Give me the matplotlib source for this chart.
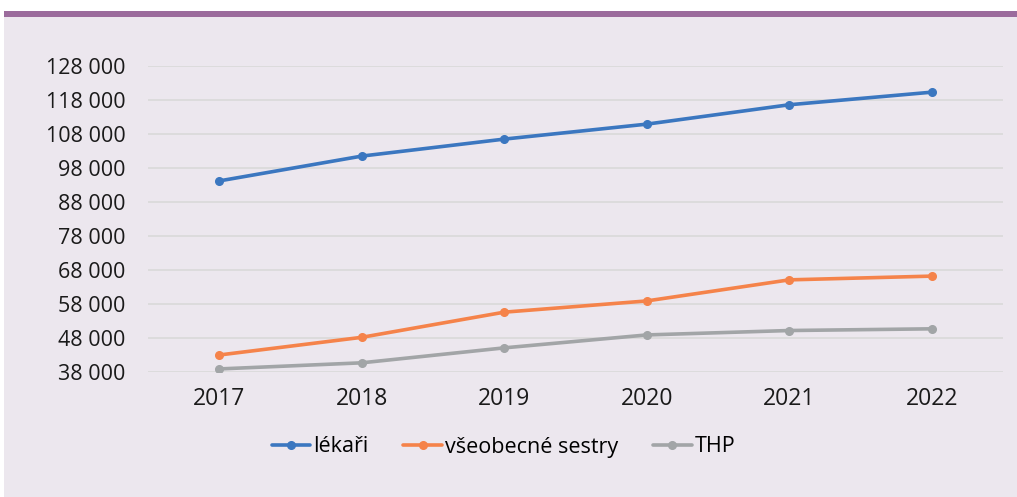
import numpy as np
import matplotlib.pyplot as plt
from matplotlib.ticker import FuncFormatter

years = ['2017', '2018', '2019', '2020', '2021', '2022']
lekari = [94200, 101500, 106500, 110900, 116600, 120300]
sestry = [43000, 48200, 55600, 58900, 65100, 66200]
thp = [38900, 40700, 45100, 48900, 50200, 50700]

bg = '#ECE7EE'
fig = plt.figure(figsize=(10.17, 4.97), dpi=100, facecolor='white')
plt.rcParams['font.family'] = ['Open Sans', 'DejaVu Sans']

# background panel with purple top strip
fig.patches.append(plt.Rectangle((4 / 1017, 0), 1 - 4 / 1017, 1 - 17 / 497,
                                 transform=fig.transFigure, facecolor=bg,
                                 edgecolor='none', zorder=-2))
fig.patches.append(plt.Rectangle((4 / 1017, 1 - 17 / 497), 1 - 4 / 1017, 6 / 497,
                                 transform=fig.transFigure, facecolor='#9B6B9C',
                                 edgecolor='none', zorder=-1))

ax = fig.add_axes([148 / 1017, 1 - 372 / 497, (1003 - 148) / 1017, (372 - 66) / 497])
ax.set_facecolor('none')

x = np.arange(len(years))
series = [(lekari, 'lékaři', '#3B77C0'),
          (sestry, 'všeobecné sestry', '#F5834A'),
          (thp, 'THP', '#A2A5A7')]
for vals, name, col in series:
    ax.plot(x, vals, color=col, lw=2.6, marker='o', ms=5.5, label=name,
            solid_capstyle='round', zorder=3)

ax.set_xlim(-0.5, 5.5)
ax.set_ylim(38000, 128000)
ax.set_yticks(np.arange(38000, 128001, 10000))
ax.yaxis.set_major_formatter(FuncFormatter(lambda v, p: f'{int(v):,}'.replace(',', ' ')))
ax.set_xticks(x)
ax.set_xticklabels(years)
ax.grid(axis='y', color='#D9D9D9', lw=1.2)
ax.set_axisbelow(True)
for s in ax.spines.values():
    s.set_visible(False)
ax.tick_params(axis='both', length=0, colors='#1a1a1a')
ax.tick_params(axis='y', pad=16, labelsize=15.5)
ax.tick_params(axis='x', pad=11, labelsize=16.5)

fig.legend(*ax.get_legend_handles_labels(), loc='center',
           bbox_to_anchor=(503.5 / 1017, 1 - 447 / 497), ncol=3, frameon=False,
           fontsize=15.5, handlelength=1.8, handletextpad=0.15, columnspacing=1.6,
           borderpad=0)

fig.savefig('out.png', dpi=100, facecolor='white')
